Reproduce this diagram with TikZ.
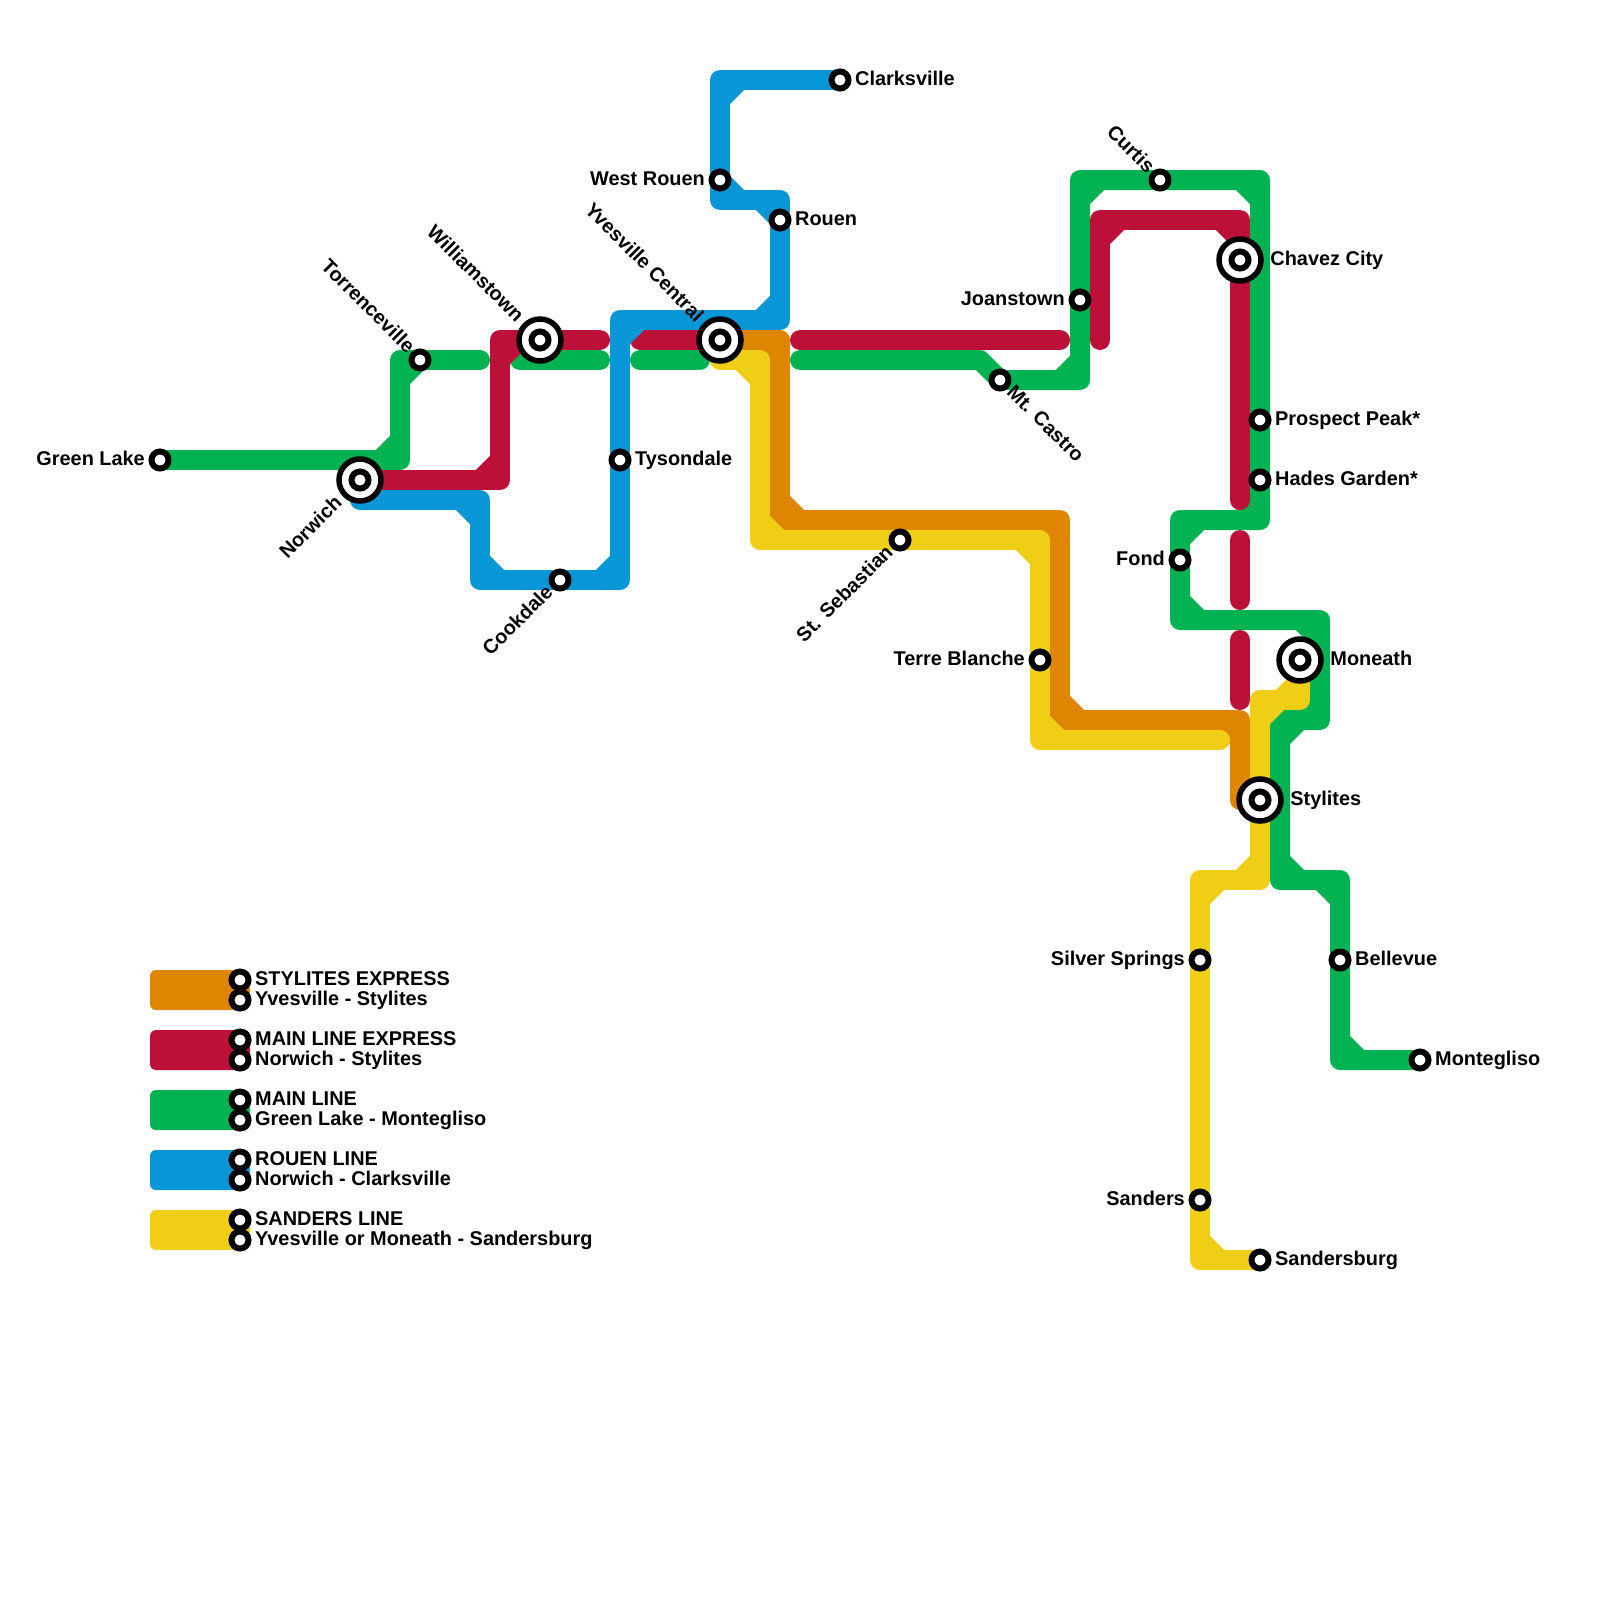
\documentclass[tikz,border=0pt]{standalone}
\usepackage{fontspec}
\setmainfont{Liberation Sans}
\usepackage{xcolor}
\usepackage{tikz}
\usetikzlibrary{positioning,backgrounds}
\definecolor{expressorange}{RGB}{223, 134, 0}
\definecolor{expressred}{RGB}{189, 16, 56}
\definecolor{mainblue}{RGB}{8, 150, 215}
\definecolor{maingreen}{RGB}{0, 178, 81}
\definecolor{sandersyellow}{RGB}{240, 206, 21}

\begin{document}
\begin{tikzpicture}[
    x=1pt, y=-1pt,
    stop/.style={
        circle, draw=black, fill=white, line width=6pt,
        inner sep=0pt, minimum size=17pt
    },
    hub/.style={
        circle, draw=black, fill=white, line width=5.5pt,
        inner sep=0pt, minimum size=42pt
    },
    stopname/.style={
        font=\fontsize{19.9}{24}\selectfont\bfseries, inner xsep=3.5pt, inner ysep=0pt,
        text height=14.5pt, text depth=4pt
    },
    hubname/.style={stopname, inner xsep=6.5pt},
    tiltname/.style={stopname, inner xsep=13.5pt},
    tilthub/.style={stopname, inner xsep=29pt},
    track/.style={line width=20pt, line cap=round, line join=round},
    legendbar/.style={rounded corners=6pt}
]
    \node[stop] (greenlake) at (160,460) {};
    \node[hub] (norwich) at (360,480) {};
    \node[stop] (norwichin) at (norwich) {};
    \node[stop] (torrenceville) at (420,360) {};
    \node[hub] (williamstown) at (540,340) {};
    \node[stop] (williamstownin) at (williamstown) {};
    \node[hub] (yvesville) at (720,340) {};
    \node[stop] (yvesvillein) at (yvesville) {};
    \node[stop] (tysondale) at (620,460) {};
    \node[stop] (cookdale) at (560,580) {};
    \node[stop] (westrouen) at (720,180) {};
    \node[stop] (clarksville) at (840,80) {};
    \node[stop] (rouen) at (780,220) {};
    \node[stop] (curtis) at (1160,180) {};
    \node[stop] (joanstown) at (1080,300) {};
    \node[stop] (mtcastro) at (1000,380) {};
    \node[hub] (chavez) at (1240,260) {};
    \node[stop] (chavezin) at (chavez) {};
    \node[stop] (prospect) at (1260,420) {};
    \node[stop] (hades) at (1260,480) {};
    \node[stop] (fond) at (1180,560) {};
    \node[stop] (sebastian) at (900,540) {};
    \node[stop] (terre) at (1040,660) {};
    \node[hub] (moneath) at (1300,660) {};
    \node[stop] (moneathin) at (moneath) {};
    \node[hub] (stylites) at (1260,800) {};
    \node[stop] (stylitesin) at (stylites) {};
    \node[stop] (silver) at (1200,960) {};
    \node[stop] (bellevue) at (1340,960) {};
    \node[stop] (sanders) at (1200,1200) {};
    \node[stop] (sandersburg) at (1260,1260) {};
    \node[stop] (montegliso) at (1420,1060) {};

    \node[stopname, left=0pt of greenlake] (greenlakename) {Green Lake};
    \node[tilthub, rotate=45, anchor=east] (norwichname) at (norwich) {Norwich};
    \node[tiltname, rotate=-45, anchor=east] (torrencevillename) at (torrenceville) {Torrenceville};
    \node[tilthub, rotate=-45, anchor=east] (williamstownname) at (williamstown) {Williamstown};
    \node[tilthub, rotate=-45, anchor=east] (yvesvillename) at (yvesville) {Yvesville Central};
    \node[stopname, right=0pt of tysondale] (tysondalename) {Tysondale};
    \node[tiltname, rotate=45, anchor=east] (cookdalename) at (cookdale) {Cookdale};
    \node[stopname, left=0pt of westrouen] (westrouenname) {West Rouen};
    \node[stopname, right=0pt of clarksville] (clarksvillename) {Clarksville};
    \node[stopname, right=0pt of rouen] (rouenname) {Rouen};
    \node[tiltname, rotate=-45, anchor=east] (curtisname) at (curtis) {Curtis};
    \node[stopname, left=0pt of joanstown] (joanstownname) {Joanstown};
    \node[tiltname, rotate=-45, anchor=west] (mtcastroname) at (mtcastro) {Mt. Castro};
    \node[hubname, right=0pt of chavez] (chavezname) {Chavez City};
    \node[stopname, right=0pt of prospect] (prospectname) {Prospect Peak*};
    \node[stopname, right=0pt of hades] (hadesname) {Hades Garden*};
    \node[stopname, left=0pt of fond] (fondname) {Fond};
    \node[tiltname, rotate=45, anchor=east] (sebastianname) at (sebastian) {St. Sebastian};
    \node[stopname, left=0pt of terre] (terrename) {Terre Blanche};
    \node[hubname, right=0pt of moneath] (moneathname) {Moneath};
    \node[hubname, right=0pt of stylites] (stylitesname) {Stylites};
    \node[stopname, left=0pt of silver] (silvername) {Silver Springs};
    \node[stopname, right=0pt of bellevue] (bellevuename) {Bellevue};
    \node[stopname, left=0pt of sanders] (sandersname) {Sanders};
    \node[stopname, right=0pt of sandersburg] (sandersburgname) {Sandersburg};
    \node[stopname, right=0pt of montegliso] (monteglisoname) {Montegliso};

    \node[stop] (stylitesa) at (240,980) {};
    \node[stop] (stylitesb) at (240,1000) {};
    \node[stop] (expressa) at (240,1040) {};
    \node[stop] (expressb) at (240,1060) {};
    \node[stop] (maina) at (240,1100) {};
    \node[stop] (mainb) at (240,1120) {};
    \node[stop] (rouena) at (240,1160) {};
    \node[stop] (rouenb) at (240,1180) {};
    \node[stop] (sandersa) at (240,1220) {};
    \node[stop] (sandersb) at (240,1240) {};
    \node[stopname, right=0pt of stylitesa] (stylitesatext) {STYLITES EXPRESS};
    \node[stopname, right=0pt of stylitesb] (stylitesbtext) {Yvesville - Stylites};
    \node[stopname, right=0pt of expressa] (expressatext) {MAIN LINE EXPRESS};
    \node[stopname, right=0pt of expressb] (expressbtext) {Norwich - Stylites};
    \node[stopname, right=0pt of maina] (mainatext) {MAIN LINE};
    \node[stopname, right=0pt of mainb] (mainbtext) {Green Lake - Montegliso};
    \node[stopname, right=0pt of rouena] (rouenatext) {ROUEN LINE};
    \node[stopname, right=0pt of rouenb] (rouenbtext) {Norwich - Clarksville};
    \node[stopname, right=0pt of sandersa] (sandersatext) {SANDERS LINE};
    \node[stopname, right=0pt of sandersb] (sandersbtext) {Yvesville or Moneath - Sandersburg};

    \begin{pgfonlayer}{background}
    \path[use as bounding box, fill=white] (0,0) rectangle (1600,1600);

    \draw[track, maingreen] (greenlake.center) -- (400,460) -- (400,360) -- (480,360);
    \draw[track, maingreen] (380,460) -- (400,440) (400,380) -- (torrenceville.center);
    \draw[track, maingreen] (520,360) -- (600,360);
    \draw[track, maingreen] (640,360) -- (700,360);
    \draw[track, maingreen] (800,360) -- (980,360) -- (mtcastro.center) -- (1080,380) -- (joanstown.center) -- (1080,180) -- (curtis.center) -- (1260,180) -- (prospect.center) -- (hades.center) -- (1260,520) -- (1180,520) -- (fond.center) -- (1180,620) -- (1320,620) -- (1320,720) -- (1280,720) -- (1280,880) -- (1340,880) -- (bellevue.center) -- (1340,1060) -- (montegliso.center);
    \draw[track, maingreen] (1060,380) -- (1080,360) (1080,200) -- (1100,180) (1240,180) -- (1260,200) (1240,520) -- (1260,500) (1180,540) -- (1200,520) (1180,600) -- (1200,620) (1300,620) -- (1320,640) (1320,700) -- (1280,740) (1280,860) -- (1300,880) (1320,880) -- (1340,900) (1340,1040) -- (1360,1060);

    \draw[track, expressred] (norwich.center) -- (500,480) -- (500,340) -- (600,340);
    \draw[track, expressred] (480,480) -- (500,460) (500,360) -- (520,340);
    \draw[track, expressred] (640,340) -- (yvesville.center);
    \draw[track, expressred] (800,340) -- (1060,340);
    \draw[track, expressred] (1100,340) -- (1100,220) -- (1240,220) -- (chavez.center) -- (1240,500);
    \draw[track, expressred] (1100,240) -- (1120,220) (1220,220) -- (1240,240);
    \draw[track, expressred] (1240,540) -- (1240,600);
    \draw[track, expressred] (1240,640) -- (1240,700);

    \draw[track, mainblue] (norwich.center) ++(0,20) -- (480,500) -- (480,580) -- (cookdale.center) -- (620,580) -- (tysondale.center) -- (620,320) -- (780,320) -- (rouen.center) -- (780,200) -- (720,200) -- (westrouen.center) -- (720,80) -- (clarksville.center);
    \draw[track, mainblue] (460,500) -- (480,520) (480,560) -- (500,580) (600,580) -- (620,560) (620,340) -- (640,320) (760,320) -- (780,300) (760,200) -- (780,220) (720,180) -- (740,200) (720,100) -- (740,80);

    \draw[track, expressorange] (yvesville.center) -- (780,340) -- (780,520) -- (1060,520) -- (1060,720) -- (1240,720) -- (1240,800);
    \draw[track, expressorange] (760,340) -- (780,360) (780,500) -- (800,520) (1040,520) -- (1060,540) (1060,700) -- (1080,720) (1220,720) -- (1240,740);

    \draw[track, sandersyellow] (720,360) -- (760,360) -- (760,540) -- (sebastian.center) -- (1040,540) -- (terre.center) -- (1040,740) -- (1220,740);
    \draw[track, sandersyellow] (740,360) -- (760,380) (760,520) -- (780,540) (1020,540) -- (1040,560) (1040,720) -- (1060,740);
    \draw[track, sandersyellow] (moneath.center) -- (1300,700) -- (1260,700) -- (stylites.center) -- (1260,880) -- (1200,880) -- (silver.center) -- (sanders.center) -- (1200,1260) -- (sandersburg.center);
    \draw[track, sandersyellow] (1300,680) -- (1260,720) (1260,860) -- (1240,880) (1220,880) -- (1200,900) (1200,1240) -- (1220,1260);

    \fill[legendbar, expressorange] (150,970) rectangle (250,1010);
    \fill[legendbar, expressred] (150,1030) rectangle (250,1070);
    \fill[legendbar, maingreen] (150,1090) rectangle (250,1130);
    \fill[legendbar, mainblue] (150,1150) rectangle (250,1190);
    \fill[legendbar, sandersyellow] (150,1210) rectangle (250,1250);
    \end{pgfonlayer}
\end{tikzpicture}
\end{document}
